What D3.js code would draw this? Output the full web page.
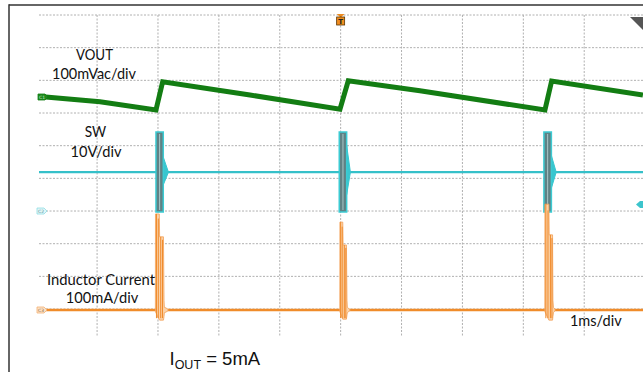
<!DOCTYPE html>
<html><head><meta charset="utf-8">
<script src="https://cdn.jsdelivr.net/npm/d3@7"></script>
<style>html,body{margin:0;padding:0;background:#fff;overflow:hidden}</style>
</head><body><svg id="c" width="643" height="372"></svg>
<script>
// ---------- DATA (time in ms, 1 ms/div) ----------
const timeDomain = [0, 10];
const divDomain = [0, 10];

// CH1: VOUT, AC coupled, 100 mV/div  [time ms, mV]
const voutTime = [0.062, 1.048, 1.967, 2.077, 3.511, 4.989, 5.125, 6.302, 8.355, 8.465, 9.964];
const voutMV   = [1.5,  -14.4, -39.8,  46.8,   6.1, -37.6,  49.9,  19.3, -39.8,  49.0,   6.1];

// CH2: SW node, 10 V/div
const swIdle = 11.9, swHigh = 24.2, swLow = -0.3;
const swBurstStart = [1.967, 4.977, 8.338];
const swBurstEnd   = [2.087, 5.099, 8.461];
const swRingEnd    = [2.172, 5.160, 8.540];
const swRingHi     = [16.5, 20.0, 17.0];
const swRingLo     = [8.0, 5.0, 7.0];

// CH3: inductor current, 100 mA/div  envelopes [time ms, max mA, min mA]
const ilSpike1 = [[1.957,0,0],[1.959,294,-5],[2.022,294,-30],[2.027,224,-31],[2.090,224,-31],[2.099,30,-20],[2.105,8,-8],[2.140,6,-6],[2.172,0,0]];
const ilSpike2 = [[4.986,0,0],[4.988,269,-5],[5.035,269,-28],[5.040,199,-28],[5.095,199,-28],[5.104,30,-15],[5.110,8,-8],[5.130,5,-5],[5.160,0,0]];
const ilSpike3 = [[8.353,0,0],[8.355,324,-5],[8.420,324,-31],[8.425,230,-31],[8.480,230,-31],[8.486,30,-20],[8.495,8,-8],[8.510,5,-5],[8.527,0,0]];
// individual current pulses visible inside each burst [time ms, peak mA]
const ilPulses1 = [[1.975,294],[2.005,280],[2.045,224],[2.075,215]];
const ilPulses2 = [[5.000,269],[5.025,255],[5.060,199],[5.085,190]];
const ilPulses3 = [[8.370,324],[8.405,305],[8.445,230],[8.470,220]];

// ---------- SCALES ----------
const svg = d3.select('#c');
const x = d3.scaleLinear().domain(timeDomain).range([36.2, 645.1]);
const dv = d3.scaleLinear().domain(divDomain).range([15, 341.7]);
const yV = d3.scaleLinear().domain([0, 100]).range([dv(2.51), dv(1.51)]);
const yS = d3.scaleLinear().domain([0, 10]).range([dv(6.0), dv(5.0)]);
const yI = d3.scaleLinear().domain([0, 100]).range([dv(9.03), dv(8.03)]);

// ---------- FRAME ----------
svg.append('rect').attr('width',643).attr('height',372).attr('fill','#fff');
svg.append('line').attr('x1',9).attr('x2',643).attr('y1',5).attr('y2',5).attr('stroke','#333').attr('stroke-width',1.5);
svg.append('line').attr('x1',9).attr('x2',9).attr('y1',4.3).attr('y2',372).attr('stroke','#333').attr('stroke-width',1.5);

// ---------- GRID ----------
const g = svg.append('g').attr('stroke','#b0b0b0').attr('stroke-width',1).attr('stroke-dasharray','2,1.5');
x.ticks(10).filter(t => t > 0 && t < 10).forEach(t => {
  g.append('line').attr('x1',x(t)).attr('x2',x(t)).attr('y1',15).attr('y2',336);
});
dv.ticks(10).filter(d => d < 10).forEach(d => {
  g.append('line').attr('x1',39).attr('x2',643).attr('y1',dv(d)).attr('y2',dv(d));
});

// ---------- TRACES ----------
const tStart = x.invert(39);
// CH2 baseline
svg.append('path').datum([[tStart, swIdle],[10, swIdle]])
  .attr('d', d3.line().x(d=>x(d[0])).y(d=>yS(d[1])))
  .attr('stroke','#35c0c9').attr('stroke-width',2.2).attr('fill','none');
// CH2 bursts
const areaS = d3.area().x(d=>x(d[0])).y0(d=>yS(d[2])).y1(d=>yS(d[1]));
swBurstStart.forEach((s,i) => {
  const e = swBurstEnd[i];
  svg.append('path').datum([[e, swRingHi[i], swRingLo[i]],[swRingEnd[i], swIdle, swIdle]])
    .attr('d', areaS).attr('fill','#38c6cf').attr('stroke','#38c6cf').attr('stroke-width',1);
  svg.append('path').datum([[s, swHigh, swLow],[e, swHigh, swLow]])
    .attr('d', areaS).attr('fill','#5f8285').attr('stroke','#3ccbd3').attr('stroke-width',1.5);
  const m = (s + e) / 2;
  svg.append('line').attr('x1',x(m)).attr('x2',x(m)).attr('y1',yS(swHigh)+2).attr('y2',yS(swLow)-2)
    .attr('stroke','#a9c6c8').attr('stroke-width',1);
});

// CH1 VOUT
svg.append('path').datum(voutTime.map((t,i)=>[t, voutMV[i]]))
  .attr('d', d3.line().x(d=>x(d[0])).y(d=>yV(d[1])))
  .attr('stroke','#137d13').attr('stroke-width',5).attr('fill','none');

// CH3 baseline
svg.append('path').datum([[tStart, 0],[10, 0]])
  .attr('d', d3.line().x(d=>x(d[0])).y(d=>yI(d[1])))
  .attr('stroke','#f08c2a').attr('stroke-width',2.5).attr('fill','none');
const areaI = d3.area().x(d=>x(d[0])).y0(d=>yI(d[2])).y1(d=>yI(d[1]));
[ilSpike1, ilSpike2, ilSpike3].forEach(sp => {
  svg.append('path').datum(sp).attr('d', areaI)
    .attr('fill','#fbd3aa').attr('stroke','#f3a055').attr('stroke-width',0.8);
});
[ilPulses1, ilPulses2, ilPulses3].forEach(ps => {
  ps.forEach(p => {
    svg.append('line').attr('x1',x(p[0])).attr('x2',x(p[0])).attr('y1',yI(p[1])).attr('y2',yI(-25))
      .attr('stroke','#f08a2a').attr('stroke-width',1);
  });
});

// ---------- MARKERS ----------
function chMarker(x0, yc, fill, stroke, label, tcol) {
  const x1 = x0 + 10, h = 3;
  svg.append('path').attr('d',`M${x0},${yc-h}H${x1-3}L${x1},${yc}L${x1-3},${yc+h}H${x0}Z`)
    .attr('fill',fill).attr('stroke',stroke).attr('stroke-width',0.8);
  svg.append('text').attr('x',x0+4).attr('y',yc+1.8).attr('text-anchor','middle')
    .attr('font-family','DejaVu Sans').attr('font-size',4.5).attr('fill',tcol).text(label);
}
chMarker(38, yV(0), '#1d8a1d', '#137d13', 'C1', '#cfe9cf');
chMarker(37, yS(0), '#e0f6f8', '#8fdde3', 'C2', '#4f8f94');
chMarker(37, yI(0), '#fde2c6', '#f2b175', 'C3', '#8a6440');

// trigger position marker
const tx = x(5);
svg.append('path').attr('d',`M${tx-4},14L${tx+4},14L${tx},17.5Z`).attr('fill','#ec8a1e');
svg.append('rect').attr('x',tx-4).attr('y',17).attr('width',8).attr('height',8)
  .attr('fill','#ef8f1f').attr('stroke','#5a3300').attr('stroke-width',0.8);
svg.append('text').attr('x',tx).attr('y',24).attr('text-anchor','middle')
  .attr('font-family','DejaVu Sans').attr('font-weight','bold').attr('font-size',7).attr('fill','#222').text('T');

// trigger level marker (right edge)
svg.append('path').attr('d','M636,204.5L640,201H643V208H640Z').attr('fill','#3cc4cc');
// top-right corner indicator
svg.append('path').attr('d','M630,17H643V30Z').attr('fill','#555');

// ---------- TEXT ----------
function label(txt, cx, by, len) {
  svg.append('text').attr('x',cx).attr('y',by).attr('text-anchor','middle')
    .attr('font-family','Lato, "Open Sans", sans-serif').attr('font-size',15).attr('fill','#111')
    .attr('textLength',len).attr('lengthAdjust','spacingAndGlyphs').text(txt);
}
label('VOUT', 94.5, 60, 37);
label('100mVac/div', 94, 79.3, 84);
label('SW', 95.5, 137, 21.5);
label('10V/div', 96, 156.5, 51);
label('Inductor Current', 101, 285.3, 108);
label('100mA/div', 102, 303.3, 72.6);
label('1ms/div', 595.8, 326, 51.7);

const io = svg.append('text').attr('x',169.5).attr('y',365)
  .attr('font-family','"Liberation Sans", Arial, sans-serif').attr('font-size',18.5).attr('fill','#111');
io.append('tspan').text('I');
io.append('tspan').attr('font-size',12.5).attr('dy',4).text('OUT');
io.append('tspan').attr('dy',-4).text(' = 5mA');
</script>
</body></html>
